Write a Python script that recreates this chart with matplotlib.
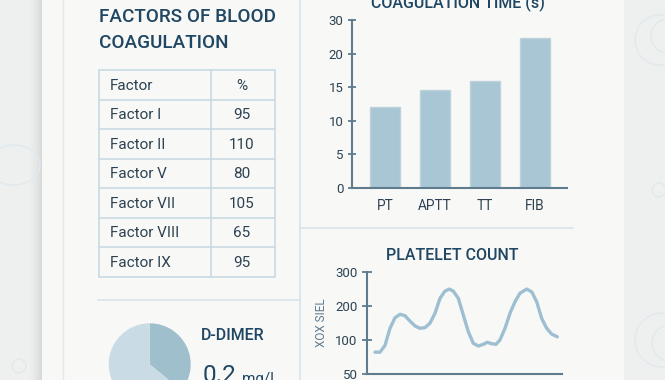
import numpy as np
import matplotlib
matplotlib.use("Agg")
import matplotlib.pyplot as plt
from matplotlib.patches import Rectangle, Ellipse, Circle

# ---------------- data ----------------
table_header = ["Factor", "%"]
factor_names = ["Factor I", "Factor II", "Factor V", "Factor VII", "Factor VIII", "Factor IX"]
factor_pct = [95, 110, 80, 105, 65, 95]

coag_tests = ["PT", "APTT", "TT", "FIB"]
coag_times = [12.0, 14.6, 15.9, 24.6]
coag_ticks = [0, 5, 10, 15, 20, 30]

platelet_t = [0, 5, 10, 15, 20, 25, 30, 35, 40, 45, 50, 55, 60, 65, 70, 74.3, 78.3,
              83.3, 88.3, 93.3, 98.3, 103.3, 108.3, 112.3, 116.7, 121, 125, 130, 135,
              140, 145, 151.7, 156.7, 161.7, 166.7, 171.7, 176.7, 182.3]
platelet_v = [82, 82, 92, 134, 165, 175, 171, 155, 141, 134, 136, 149, 178, 222, 243,
              249, 243, 222, 173, 124, 95, 91, 93.5, 96.5, 94.4, 93.5, 100, 134, 178,
              212, 237, 249, 241, 212, 163, 134, 117, 109]
platelet_ticks = [50, 100, 200, 300]

ddimer_share = [36, 64]
ddimer_value = "0.2"
ddimer_unit = "mg/L"

# ---------------- style ----------------
W, H = 665, 380
FONT = ["Roboto", "DejaVu Sans"]
plt.rcParams["font.family"] = FONT
TITLE_C = "#1f4662"
TEXT_C = "#2c4252"
AXIS_C = "#5f7c8e"
LINE_BLUE = "#d3e2ea"
PAPER = "#f8f8f6"
OUTSIDE = "#eef0ef"

fig = plt.figure(figsize=(W / 100, H / 100), dpi=100)
fig.patch.set_facecolor(OUTSIDE)


def rect(l, t, r, b):
    return [l / W, 1 - b / H, (r - l) / W, (b - t) / H]


# background overlay in pixel coordinates
bg = fig.add_axes([0, 0, 1, 1], zorder=0)
bg.set_xlim(0, W)
bg.set_ylim(H, 0)
bg.axis("off")

# shadow to left of paper
c0 = np.array(matplotlib.colors.to_rgb(OUTSIDE))
c1 = np.array(matplotlib.colors.to_rgb("#d6d9d9"))
for i in range(16):
    f = (i / 15) ** 2
    bg.add_patch(Rectangle((26 + i, 0), 1.05, H, color=c0 * (1 - f) + c1 * f, lw=0))
bg.add_patch(Rectangle((42, 0), 582, H, color=PAPER, lw=0))
bg.plot([63, 63], [0, H], color="#e6e8e7", lw=1)
bg.plot([299.5, 299.5], [0, H], color=LINE_BLUE, lw=1.1)
bg.plot([299.5, 573], [227.7, 227.7], color=LINE_BLUE, lw=1.1)
bg.plot([98, 299.5], [300, 300], color=LINE_BLUE, lw=1.1)

# faint decorative rings outside the paper
ring = dict(fill=False, ec="#dfe9ee", lw=1)
bg.add_patch(Ellipse((14, 165), 52, 40, **ring))
bg.add_patch(Circle((19, 366), 7, **ring))
bg.add_patch(Circle((660, 40), 25, **ring))
bg.add_patch(Circle((668, 36), 17, **ring))
bg.add_patch(Circle((659, 190), 7, **ring))
bg.add_patch(Circle((662, 340), 27, **ring))
bg.add_patch(Circle((670, 343), 18, **ring))

# ---------------- left title ----------------
bg.text(99, 22, "FACTORS OF BLOOD", fontsize=13.6, color=TITLE_C, fontweight="medium",
        va="baseline", ha="left")
bg.text(99, 48.5, "COAGULATION", fontsize=13.6, color=TITLE_C, fontweight="medium",
        va="baseline", ha="left")

# ---------------- table ----------------
tl, tm, tr, tt, rh = 99, 210.7, 275, 70, 29.5
rows = [table_header] + [[n, str(v)] for n, v in zip(factor_names, factor_pct)]
nrows = len(rows)
bg.add_patch(Rectangle((tl, tt), tr - tl, rh * nrows, fill=False, ec="#c9dae3", lw=1.2))
bg.plot([tm, tm], [tt, tt + rh * nrows], color="#c9dae3", lw=1.2)
for i, (a, b) in enumerate(rows):
    if i > 0:
        bg.plot([tl, tr], [tt + rh * i, tt + rh * i], color="#c9dae3", lw=1.2)
    yc = tt + rh * (i + 0.5)
    bg.text(110, yc + 1, a, fontsize=11, color=TEXT_C, va="center", ha="left")
    bg.text(242, yc + 1, b, fontsize=11, color=TEXT_C, va="center", ha="center")

# ---------------- D-dimer ----------------
pax = fig.add_axes(rect(108.7, 323.3, 190.7, 405.3), zorder=2)
pax.pie(ddimer_share, colors=["#a0bfcd", "#c9dce6"], startangle=90, counterclock=False,
        wedgeprops=dict(lw=0), radius=1)
pax.set_xlim(-1, 1)
pax.set_ylim(-1, 1)
pax.set_aspect("equal")
bg.text(201, 340, "D-DIMER", fontsize=11.5, color=TITLE_C, fontweight="medium",
        va="baseline", ha="left", zorder=3)
bg.text(203, 382.5, ddimer_value, fontsize=17.5, color=TITLE_C, va="baseline", ha="left",
        zorder=3)
bg.text(242, 382.5, ddimer_unit, fontsize=11, color=TITLE_C, va="baseline", ha="left",
        zorder=3)


def make_scale(ticks):
    pos = np.arange(len(ticks), dtype=float)
    tv = np.asarray(ticks, dtype=float)

    def fwd(v):
        return np.interp(v, tv, pos)

    def inv(p):
        return np.interp(p, pos, tv)

    return fwd, inv


def style_axes(ax):
    ax.set_facecolor("none")
    for s in ["top", "right"]:
        ax.spines[s].set_visible(False)
    for s in ["left", "bottom"]:
        ax.spines[s].set_color(AXIS_C)
        ax.spines[s].set_linewidth(1.5)
    ax.tick_params(axis="y", direction="inout", length=6, width=1.3, color=AXIS_C,
                   labelcolor=TEXT_C, labelsize=9.5, pad=3)
    ax.tick_params(axis="x", length=0, labelcolor=TEXT_C, labelsize=9.8, pad=8)


# ---------------- coagulation bar chart ----------------
bax = fig.add_axes(rect(352, 20, 567, 187.7), zorder=2)
fwd, inv = make_scale(coag_ticks)
bax.set_yscale("function", functions=(fwd, inv))
bax.bar(np.arange(len(coag_tests)), coag_times, width=0.6, color="#a9c6d4",
        edgecolor="#bcd3de", lw=1)
bax.set_ylim(0, 30)
bax.set_xlim(-0.66, 3.64)
bax.set_yticks(coag_ticks)
bax.set_yticklabels([str(t) for t in coag_ticks])
bax.set_xticks(np.arange(len(coag_tests)))
bax.set_xticklabels(coag_tests)
bax.yaxis.set_minor_locator(matplotlib.ticker.NullLocator())
style_axes(bax)
bg.text(458, 8.5, "COAGULATION TIME (s)", fontsize=11.5, color=TITLE_C,
        fontweight="medium", va="baseline", ha="center")

# ---------------- platelet line chart ----------------
lax = fig.add_axes(rect(366.7, 271.7, 562, 374), zorder=2)
fwd2, inv2 = make_scale(platelet_ticks)
lax.set_yscale("function", functions=(fwd2, inv2))
lax.plot(platelet_t, platelet_v, color="#9dbfd1", lw=2.4, solid_capstyle="round",
         solid_joinstyle="round")
lax.set_ylim(50, 300)
lax.set_xlim(-8.3, 187)
lax.set_yticks(platelet_ticks)
lax.set_yticklabels([str(t) for t in platelet_ticks])
lax.yaxis.set_minor_locator(matplotlib.ticker.NullLocator())
lax.set_xticks([])
style_axes(lax)
lax.tick_params(axis="y", length=7, pad=3)
lax.set_ylabel("XOX SIEL", fontsize=8.5, color=AXIS_C, labelpad=5)
bg.text(452.7, 260, "PLATELET COUNT", fontsize=11.5, color=TITLE_C,
        fontweight="medium", va="baseline", ha="center")

fig.savefig("out.png", dpi=100, facecolor=fig.get_facecolor())
